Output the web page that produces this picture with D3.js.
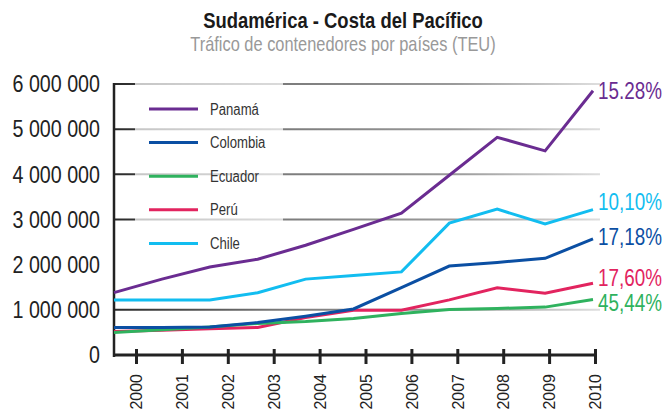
<!DOCTYPE html>
<html>
<head>
<meta charset="utf-8">
<script src="https://cdn.jsdelivr.net/npm/d3@7"></script>
<style>
  html, body { margin: 0; padding: 0; background: #fff; }
  svg { display: block; }
  text { font-family: "Liberation Sans", Arial, sans-serif; }
</style>
</head>
<body>
<svg id="chart" width="667" height="410"></svg>
<script>
// Container traffic (TEU) per country, 2000–2010
const years    = [2000, 2001, 2002, 2003, 2004, 2005, 2006, 2007, 2008, 2009, 2010];
const panama   = [1380000, 1680000, 1950000, 2120000, 2430000, 2780000, 3140000, 3980000, 4820000, 4520000, 5850000];
const colombia = [610000, 610000, 620000, 720000, 860000, 1020000, 1490000, 1970000, 2050000, 2140000, 2570000];
const ecuador  = [500000, 560000, 620000, 700000, 740000, 810000, 920000, 1010000, 1030000, 1060000, 1230000];
const peru     = [520000, 550000, 580000, 610000, 830000, 990000, 990000, 1220000, 1490000, 1370000, 1590000];
const chile    = [1220000, 1220000, 1220000, 1380000, 1680000, 1760000, 1840000, 2920000, 3230000, 2900000, 3220000];

const seriesNames  = ["Panamá", "Colombia", "Ecuador", "Perú", "Chile"];
const growthLabels = ["15.28%", "17,18%", "45,44%", "17,60%", "10,10%"];
const yTickValues  = [0, 1000000, 2000000, 3000000, 4000000, 5000000, 6000000];
const gridValues   = [1000000, 3000000, 4000000, 5000000, 6000000];

const colors = ["#6a2c91", "#0b4fa3", "#2fb25e", "#e2245f", "#12bdf0"];
const seriesValues = [panama, colombia, ecuador, peru, chile];
const series = seriesNames.map((name, i) => ({
  name, color: colors[i], label: growthLabels[i],
  values: seriesValues[i].map((v, j) => ({ year: years[j], value: v }))
}));

// Horizontal squeeze that gives the sans face a condensed look
const SQ = 0.82;

const svg = d3.select("#chart");

// Condensed text helper: anchors at (x, y), squeezes glyphs horizontally
function condText(parent, x, y, str, attrs) {
  const t = parent.append("text")
    .attr("transform", `translate(${x},${y}) scale(${SQ},1)`)
    .text(str);
  Object.entries(attrs || {}).forEach(([k, v]) => t.attr(k, v));
  return t;
}

// Scales
const y = d3.scaleLinear().domain([0, 6000000]).range([355, 84]);
const xLine = d3.scalePoint().domain(years).range([114, 593]);
const xTick = d3.scalePoint().domain(years).range([136, 595]);

// Gridline gradient: dark on the left, fading to light gray on the right
const defs = svg.append("defs");
const grad = defs.append("linearGradient")
  .attr("id", "gridFade")
  .attr("gradientUnits", "userSpaceOnUse")
  .attr("x1", 114).attr("x2", 600).attr("y1", 0).attr("y2", 0);
grad.append("stop").attr("offset", "0%").attr("stop-color", "#2a2a2a");
grad.append("stop").attr("offset", "35%").attr("stop-color", "#7c7c7c");
grad.append("stop").attr("offset", "70%").attr("stop-color", "#9a9a9a");
grad.append("stop").attr("offset", "100%").attr("stop-color", "#dedede");

// Title
condText(svg, 343, 28, "Sudamérica - Costa del Pacífico", {
  "text-anchor": "middle", "font-size": 22.5, "font-weight": "bold", fill: "#1a1a1a"
});
condText(svg, 343, 51, "Tráfico de contenedores por países (TEU)", {
  "text-anchor": "middle", "font-size": 20, fill: "#999"
});

// Gridlines
svg.append("g").selectAll("line")
  .data(gridValues)
  .join("line")
  .attr("x1", 114).attr("x2", 600)
  .attr("y1", d => y(d)).attr("y2", d => y(d))
  .attr("stroke", "url(#gridFade)")
  .attr("stroke-width", 2);

// Legend backdrop (softens the gridlines behind the legend)
svg.append("rect")
  .attr("x", 135).attr("y", 78)
  .attr("width", 148).attr("height", 178)
  .attr("fill", "#fff").attr("fill-opacity", 0.72);

// Legend
const legend = svg.append("g");
series.forEach((s, i) => {
  const ly = 109 + i * 33.6;
  legend.append("line")
    .attr("x1", 149).attr("x2", 198)
    .attr("y1", ly).attr("y2", ly)
    .attr("stroke", s.color).attr("stroke-width", 3);
  condText(legend, 210, ly, s.name, { dy: "0.35em", "font-size": 16, fill: "#333" });
});

// Y axis
const fmt = d => d3.format(",")(d).replace(/,/g, " ");
const yAxis = svg.append("g")
  .attr("transform", "translate(114,0)")
  .call(d3.axisLeft(y).tickValues(yTickValues).tickFormat(fmt).tickSize(0).tickPadding(0));
yAxis.select(".domain").remove();
yAxis.selectAll("text")
  .attr("x", -14 / SQ)
  .attr("transform", `scale(${SQ},1)`)
  .attr("font-size", 24)
  .attr("fill", "#222")
  .style("font-family", null);
svg.append("line")
  .attr("x1", 114).attr("x2", 114)
  .attr("y1", y(6000000) - 1).attr("y2", 357)
  .attr("stroke", "#222").attr("stroke-width", 2.5);

// Data lines
const line = d3.line()
  .x(d => xLine(d.year))
  .y(d => y(d.value));
svg.append("g").selectAll("path")
  .data(series.slice().reverse())
  .join("path")
  .attr("d", d => line(d.values))
  .attr("fill", "none")
  .attr("stroke", d => d.color)
  .attr("stroke-width", 3)
  .attr("stroke-linejoin", "miter");

// Growth labels at line ends
const labelShift = { "Panamá": 0, "Colombia": -2, "Ecuador": 3, "Perú": -5, "Chile": -8 };
const endLabels = svg.append("g");
series.forEach(s => {
  const last = s.values[s.values.length - 1];
  condText(endLabels, 598, y(last.value) + labelShift[s.name], s.label, {
    dy: "0.36em", "font-size": 23, fill: s.color
  });
});

// X axis
const xAxis = svg.append("g")
  .attr("transform", "translate(0,355)")
  .call(d3.axisBottom(xTick).tickSize(9).tickPadding(0));
xAxis.select(".domain").remove();
xAxis.selectAll(".tick line")
  .attr("y1", -6).attr("y2", 9)
  .attr("stroke", "#222").attr("stroke-width", 3);
xAxis.selectAll(".tick text")
  .attr("transform", "rotate(-90)")
  .attr("x", -19).attr("y", 0)
  .attr("dy", "0.36em")
  .attr("text-anchor", "end")
  .attr("font-size", 16)
  .attr("fill", "#222")
  .style("font-family", null);
svg.append("line")
  .attr("x1", 113).attr("x2", 597)
  .attr("y1", 355).attr("y2", 355)
  .attr("stroke", "#222").attr("stroke-width", 3);
</script>
</body>
</html>
